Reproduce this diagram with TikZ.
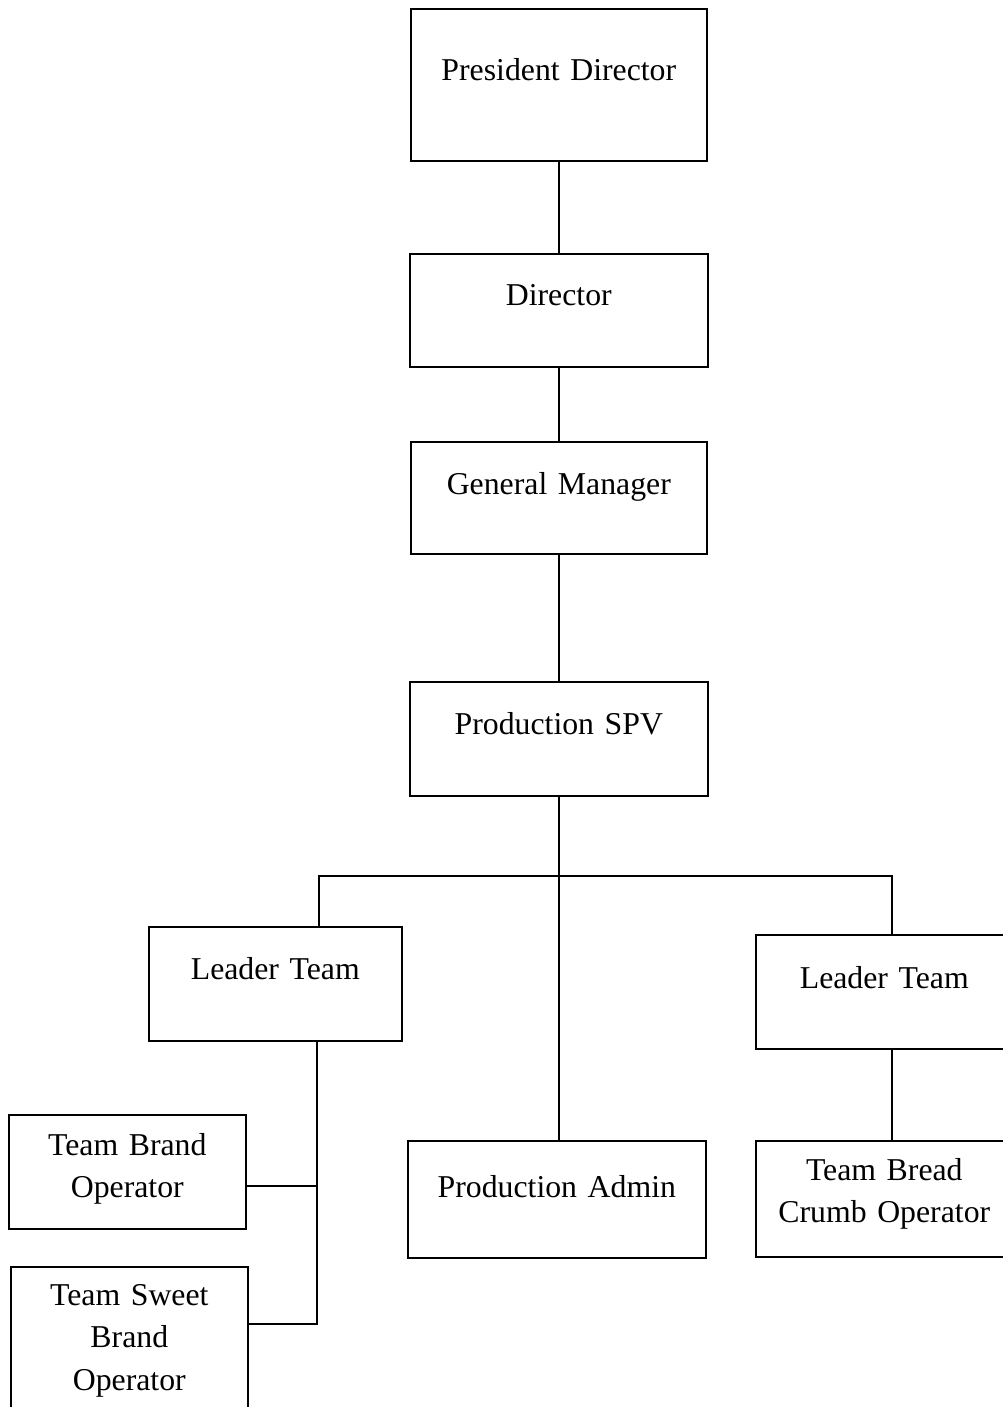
\documentclass[tikz,border=0pt]{standalone}
\usepackage{fontspec}
\setmainfont{Liberation Serif}
\usepackage{tikz}
\usetikzlibrary{positioning,calc}

\begin{document}
\begin{tikzpicture}[x=0.025cm, y=-0.025cm, line width=1.1pt,
		box/.style={draw, rectangle, anchor=north west, inner sep=0pt, align=center,
			font=\fontsize{22.6}{30}\selectfont}]
		\useasboundingbox (0,0) rectangle (1003,1407);
		\clip (0,0) rectangle (1003,1407);

		% Top of the chart
		\node[box, text width=7.4cm, text height=1.8cm, text depth=2.0cm] (pd) at (410,8) {President Director};
		\node[box, text width=7.45cm, text height=1.3cm, text depth=1.525cm] (dir) at (409,253) {Director};
		\node[box, text width=7.4cm, text height=1.325cm, text depth=1.475cm] (gm) at (410,441) {General Manager};
		\node[box, text width=7.45cm, text height=1.325cm, text depth=1.525cm] (spv) at (409,681) {Production SPV};

		% Second level
		\node[box, text width=6.325cm, text height=1.325cm, text depth=1.525cm] (ltl) at (148,926) {Leader Team};
		\node[box, text width=6.425cm, text height=1.35cm, text depth=1.5cm] (ltr) at (755,934) {Leader Team};
		\node[box, text width=7.45cm, text height=1.425cm, text depth=1.5cm] (admin) at (407,1140) {Production Admin};

		% Operators
		\node[box, text width=6.425cm, text height=1.0cm, text depth=1.9cm] (tbc) at (755,1140) {Team Bread\\Crumb Operator};
		\node[box, text width=5.925cm, text height=1.025cm, text depth=1.825cm] (tbo) at (8,1114) {Team Brand\\Operator};
		\node[box, text width=5.925cm, text height=0.975cm, text depth=4.0cm] (tso) at (10,1266) {Team Sweet\\Brand\\Operator};

		% Connectors
		\draw (pd.south) -- (pd.south |- dir.north);
		\draw (dir.south) -- (dir.south |- gm.north);
		\draw (gm.south) -- (gm.south |- spv.north);
		\coordinate (bus) at (556,876);
		\draw (spv.south) -- (spv.south |- admin.north);
		\draw ([xshift=1.0875cm]ltl.north) |- (bus) -| ([xshift=0.1875cm]ltr.north);
		\draw ([xshift=0.1875cm]ltr.south) -- ([xshift=0.1875cm]ltr.south |- tbc.north);

		\coordinate (lv) at ([xshift=1.0375cm]ltl.south);
		\draw (lv) |- ([yshift=1.0625cm]tso.east);
		\draw ([yshift=-0.35cm]tbo.east) -- ([yshift=-0.35cm]tbo.east -| lv);
	\end{tikzpicture}
\end{document}
